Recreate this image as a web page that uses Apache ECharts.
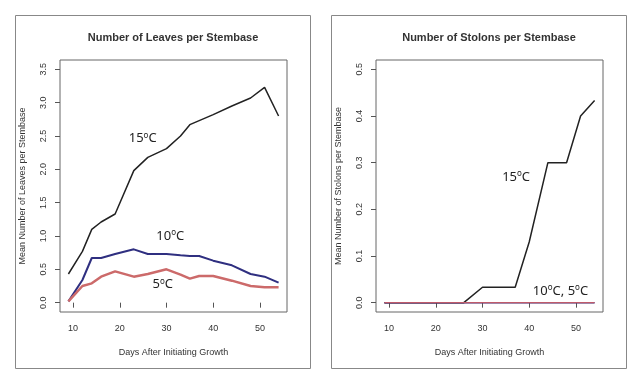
<!DOCTYPE html>
<html lang="en">
<head>
    <meta charset="UTF-8" />
    <title>Leaves and Stolons per Stembase</title>
    <script src="https://cdn.jsdelivr.net/npm/echarts@6/dist/echarts.min.js"></script>
</head>
<body style="margin:0;background:#fff">
<div id="main" style="width:640px;height:382px"></div>
<script type="text/javascript">
    // days after initiating growth
    var days = [9, 12, 14, 16, 19, 23, 26, 30, 33, 35, 37, 40, 44, 48, 51, 54];
    // mean number of leaves per stembase
    var leaves15 = [0.43, 0.77, 1.10, 1.21, 1.33, 1.98, 2.18, 2.31, 2.50, 2.67, 2.73, 2.82, 2.95, 3.07, 3.23, 2.80];
    var leaves10 = [0.02, 0.34, 0.67, 0.67, 0.73, 0.80, 0.73, 0.73, 0.71, 0.70, 0.70, 0.63, 0.56, 0.43, 0.39, 0.30];
    var leaves5  = [0.02, 0.25, 0.29, 0.39, 0.47, 0.39, 0.43, 0.50, 0.42, 0.36, 0.40, 0.40, 0.33, 0.25, 0.23, 0.23];
    // mean number of stolons per stembase
    var stolons15 = [0, 0, 0, 0, 0, 0, 0, 0.033, 0.033, 0.033, 0.033, 0.13, 0.30, 0.30, 0.40, 0.433];
    var stolons10 = [0, 0, 0, 0, 0, 0, 0, 0, 0, 0, 0, 0, 0, 0, 0, 0];
    var stolons5  = [0, 0, 0, 0, 0, 0, 0, 0, 0, 0, 0, 0, 0, 0, 0, 0];
    // tick labels
    var dayTicks = [10, 20, 30, 40, 50];
    var leafTicks = [0, 0.5, 1.0, 1.5, 2.0, 2.5, 3.0, 3.5];
    var stolonTicks = [0, 0.1, 0.2, 0.3, 0.4, 0.5];

    function pairs(ys) {
        return days.map(function (d, i) { return [d, ys[i]]; });
    }

    var labelFont = 'Liberation Sans';
    var tickColor = '#555';

    function xAxisOf(gi) {
        return {
            type: 'value', gridIndex: gi, min: 7.2, max: 55.8,
            name: 'Days After Initiating Growth', nameLocation: 'middle', nameGap: 36,
            nameTextStyle: { fontFamily: labelFont, fontSize: 9, color: '#333' },
            axisLine: { show: false },
            axisTick: { show: true, inside: false, length: 5, customValues: dayTicks, lineStyle: { color: tickColor } },
            axisLabel: { customValues: dayTicks, margin: 12, fontFamily: labelFont, fontSize: 9, color: '#333' },
            splitLine: { show: false }
        };
    }
    function yAxisOf(gi, min, max, ticks, name) {
        return {
            type: 'value', gridIndex: gi, min: min, max: max,
            name: name, nameLocation: 'middle', nameGap: 33,
            nameTextStyle: { fontFamily: labelFont, fontSize: 9, color: '#333' },
            axisLine: { show: false },
            axisTick: { show: true, inside: false, length: 5, customValues: ticks, lineStyle: { color: tickColor } },
            axisLabel: {
                customValues: ticks, rotate: 90, margin: 12, fontFamily: labelFont, fontSize: 9, color: '#333',
                formatter: function (v) { return v.toFixed(1); }
            },
            splitLine: { show: false }
        };
    }

    var noteRich = {
        s: { fontSize: 8, fontFamily: 'Noto Sans', color: '#222', verticalAlign: 'top', padding: [0, 0, 6, 0] }
    };
    function note(x, y, text) {
        return {
            symbol: 'rect', symbolSize: 1, silent: true, animation: false,
            itemStyle: { color: 'rgba(0,0,0,0)' },
            label: {
                show: true, position: 'inside', formatter: text,
                fontFamily: 'Noto Sans', fontSize: 13, color: '#222', rich: noteRich
            },
            data: [{ coord: [x, y] }]
        };
    }

    function line(xi, yi, ys, color, width, extra) {
        var s = {
            type: 'line', xAxisIndex: xi, yAxisIndex: yi, data: pairs(ys),
            showSymbol: false, symbol: 'none', animation: false,
            lineStyle: { color: color, width: width }
        };
        if (extra) s.markPoint = extra;
        return s;
    }

    var myChart = echarts.init(document.getElementById('main'));
    var option = {
        backgroundColor: '#fff',
        title: [
            { text: 'Number of Leaves per Stembase', left: 173, top: 32, padding: 0, textAlign: 'center',
              textStyle: { fontFamily: labelFont, fontSize: 11, fontWeight: 'bold', color: '#333' } },
            { text: 'Number of Stolons per Stembase', left: 489, top: 32, padding: 0, textAlign: 'center',
              textStyle: { fontFamily: labelFont, fontSize: 11, fontWeight: 'bold', color: '#333' } }
        ],
        graphic: [
            { type: 'rect', shape: { x: 15.5, y: 15.5, width: 295, height: 353 }, style: { fill: null, stroke: '#888', lineWidth: 1 }, silent: true },
            { type: 'rect', shape: { x: 331.5, y: 15.5, width: 295, height: 353 }, style: { fill: null, stroke: '#888', lineWidth: 1 }, silent: true }
        ],
        grid: [
            { left: 60, right: 353, top: 60, bottom: 70, show: true, borderColor: '#666', borderWidth: 1, backgroundColor: 'transparent' },
            { left: 376, right: 37, top: 60, bottom: 70, show: true, borderColor: '#666', borderWidth: 1, backgroundColor: 'transparent' }
        ],
        xAxis: [xAxisOf(0), xAxisOf(1)],
        yAxis: [
            yAxisOf(0, -0.14, 3.64, leafTicks, 'Mean Number of Leaves per Stembase'),
            yAxisOf(1, -0.02, 0.52, stolonTicks, 'Mean Number of Stolons per Stembase')
        ],
        series: [
            line(0, 0, leaves15, '#222', 1.5, note(24.9, 2.46, '15{s|o}C')),
            line(0, 0, leaves10, '#2f2f80', 2, note(30.8, 1.0, '10{s|o}C')),
            line(0, 0, leaves5, '#cc6a6a', 2.5, note(29.2, 0.27, '5{s|o}C')),
            line(1, 1, stolons15, '#222', 1.5, note(37.2, 0.269, '15{s|o}C')),
            line(1, 1, stolons10, '#2f2f80', 1.5, note(46.7, 0.025, '10{s|o}C, 5{s|o}C')),
            line(1, 1, stolons5, '#c05a6a', 1.2)
        ]
    };
    myChart.setOption(option);
</script>
</body>
</html>
